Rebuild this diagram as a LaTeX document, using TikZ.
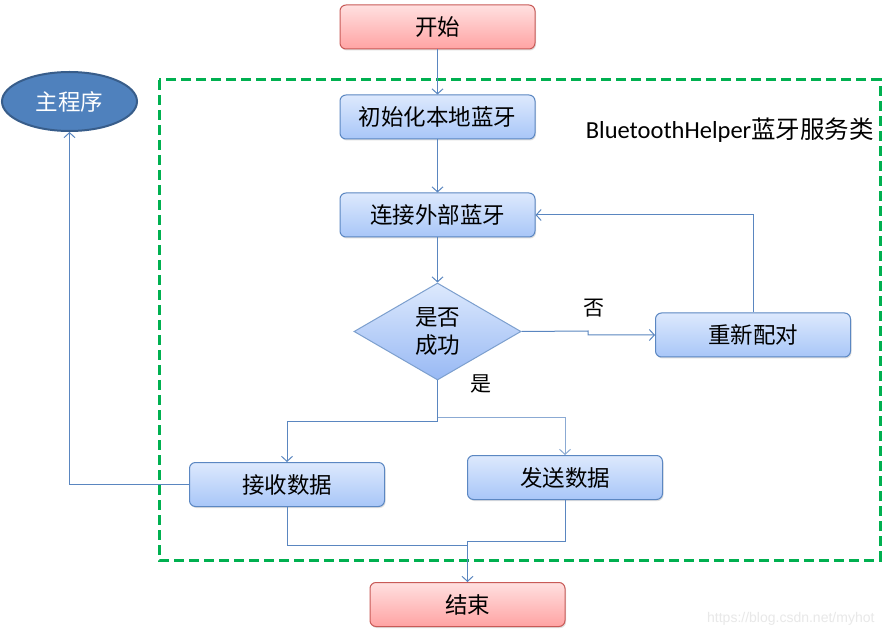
\documentclass[tikz,border=0pt]{standalone}
\usepackage{fontspec}
\setmainfont{Noto Sans CJK SC}
\newfontfamily\latinsans{Carlito}
\newfontfamily\wmfont{Liberation Sans}
\usetikzlibrary{shapes.geometric,arrows.meta,shadows}
\definecolor{bluetop}{HTML}{DDE9FD}
\definecolor{bluebot}{HTML}{A8C6F8}
\definecolor{diabot}{HTML}{98B9F4}
\definecolor{blueedge}{HTML}{5B87C2}
\definecolor{redtop}{HTML}{FFE0E0}
\definecolor{redbot}{HTML}{FFA3A3}
\definecolor{rededge}{HTML}{C85A57}
\definecolor{linecol}{HTML}{5A86C0}
\definecolor{dgreen}{HTML}{00B050}
\definecolor{ellfill}{HTML}{4F81BD}
\definecolor{elledge}{HTML}{385D8A}
\tikzset{
  txt/.style={font=\fontsize{22.5}{28}\selectfont, text=black},
  base/.style={txt, rounded corners=6pt, line width=1pt, inner sep=0pt,
    minimum width=195pt, minimum height=44pt,
    drop shadow={opacity=0.25, shadow xshift=1pt, shadow yshift=-1.5pt}},
  bluebox/.style={base, draw=blueedge, top color=bluetop, bottom color=bluebot},
  redbox/.style={base, draw=rededge, top color=redtop, bottom color=redbot},
  decide/.style={txt, diamond, aspect=1.72, inner sep=0pt, minimum width=167pt,
    minimum height=97pt, draw=blueedge!80, line width=1pt,
    top color=bluetop, bottom color=diabot,
    align=center},
  mainell/.style={ellipse, draw=elledge, line width=2pt, fill=ellfill,
    minimum width=135pt, minimum height=59pt, inner sep=0pt,
    font=\fontsize{22.5}{28}\selectfont, text=white},
  arr/.style={draw=linecol, line width=1pt, -{Straight Barb[length=5pt,width=11pt]}},
  ln/.style={draw=linecol, line width=1pt},
  lbl/.style={font=\fontsize{21}{25}\selectfont, text=black}
}
\begin{document}
\begin{tikzpicture}[x=1pt,y=-1pt]
\path[use as bounding box, fill=white] (0,0) rectangle (892,636);
% dashed container
\draw[dgreen, line width=3pt, dash pattern=on 10pt off 5pt] (159,80) rectangle (880,560);
\node[font=\fontsize{24.5}{28}\selectfont, anchor=east, inner sep=0pt] (cls) at (874,130) {{\latinsans BluetoothHelper}蓝牙服务类};
% nodes
\node[redbox] (start) at (437.5,27) {开始};
\node[bluebox] (init) at (437.5,117) {初始化本地蓝牙};
\node[bluebox] (conn) at (437.5,215) {连接外部蓝牙};
\node[decide] (dia) at (437.5,331.5) {是否\\成功};
\node[bluebox] (redo) at (753,335) {重新配对};
\node[bluebox] (recv) at (287,484.5) {接收数据};
\node[bluebox] (send) at (565,477.5) {发送数据};
\node[redbox] (end) at (467.5,604.5) {结束};
\node[mainell] (main) at (69.5,101.5) {主程序};
% labels
\node[lbl] (no) at (594,308) {否};
\node[lbl] (yes) at (481,384) {是};
\node[font=\wmfont\fontsize{14}{16}\selectfont, text=black!9, anchor=east] (wm) at (878,619) {https://blog.csdn.net/myhot};
% coordinates
\coordinate (j1) at (588,331);
\coordinate (b1) at (437.5,421);
\coordinate (b2) at (437.5,417);
\coordinate (m1) at (467.5,545);
\coordinate (m2) at (467.5,541);
% connectors
\draw[arr] (start) -- (init);
\draw[arr] (init) -- (conn);
\draw[arr] (conn) -- (dia);
\draw[arr] (dia.east) -- (j1) |- (redo.west);
\draw[arr] (redo.north) |- (conn.east);
\draw[arr] (dia.south) -- (b1) -| (recv.north);
\draw[arr, draw=linecol!70] (b2) -| (send.north);
\draw[ln] (recv.south) |- (m1);
\draw[arr] (send.south) |- (m2) -- (end.north);
\draw[arr] (recv.west) -| (main.south);
\end{tikzpicture}
\end{document}
